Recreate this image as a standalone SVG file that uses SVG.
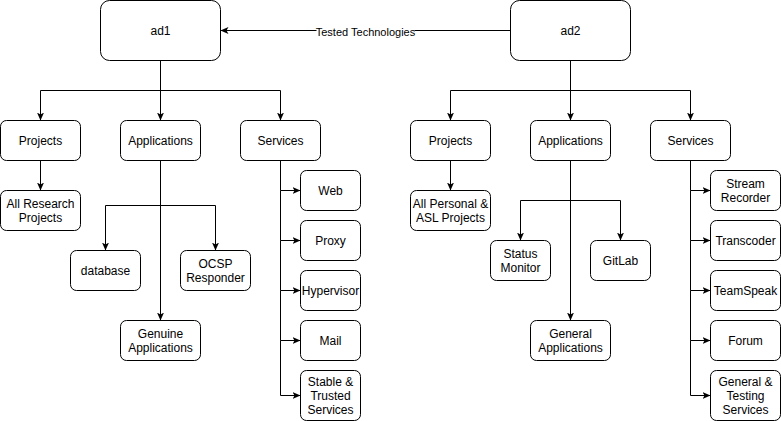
<svg xmlns="http://www.w3.org/2000/svg" width="781" height="421" viewBox="0 0 781 421">
<style>
.n rect{fill:#fff;stroke:#000;stroke-width:1}
text{font-family:"Liberation Sans",Arial,Helvetica,sans-serif;font-size:12px;fill:#000;text-anchor:middle}
.e path{fill:none;stroke:#000;stroke-width:1}
.lbl{font-size:11px}
</style>
<defs>
<marker id="a" viewBox="0 0 8 7" refX="8" refY="3.5" markerWidth="8" markerHeight="7" orient="auto" markerUnits="userSpaceOnUse">
<path d="M0,0 L8,3.5 L0,7 L2,3.5 Z" fill="#000"/>
</marker>
</defs>
<rect width="781" height="421" fill="#fff"/>
<g transform="translate(0.5,0.5)">
<g class="e" id="connectors">
<path d="M510,30 L220,30" marker-end="url(#a)"/>
<path d="M160,60 V90 H40 V120" marker-end="url(#a)"/>
<path d="M160,60 V120" marker-end="url(#a)"/>
<path d="M160,60 V90 H280 V120" marker-end="url(#a)"/>
<path d="M40,160 V190" marker-end="url(#a)"/>
<path d="M160,160 V320" marker-end="url(#a)"/>
<path d="M160,205 H105 V250" marker-end="url(#a)"/>
<path d="M160,205 H215 V250" marker-end="url(#a)"/>
<path d="M280,160 V190 H300" marker-end="url(#a)"/>
<path d="M280,190 V240 H300" marker-end="url(#a)"/>
<path d="M280,240 V290 H300" marker-end="url(#a)"/>
<path d="M280,290 V340 H300" marker-end="url(#a)"/>
<path d="M280,340 V395 H300" marker-end="url(#a)"/>
<path d="M570,60 V90 H450 V120" marker-end="url(#a)"/>
<path d="M570,60 V120" marker-end="url(#a)"/>
<path d="M570,60 V90 H690 V120" marker-end="url(#a)"/>
<path d="M450,160 V190" marker-end="url(#a)"/>
<path d="M570,160 V320" marker-end="url(#a)"/>
<path d="M570,200 H520 V240" marker-end="url(#a)"/>
<path d="M570,200 H620 V240" marker-end="url(#a)"/>
<path d="M690,160 V190 H710" marker-end="url(#a)"/>
<path d="M690,190 V240 H710" marker-end="url(#a)"/>
<path d="M690,240 V290 H710" marker-end="url(#a)"/>
<path d="M690,290 V340 H710" marker-end="url(#a)"/>
<path d="M690,340 V395 H710" marker-end="url(#a)"/>
<rect x="316" y="24" width="98" height="14" fill="#fff"/>
<text class="lbl" x="365" y="35">Tested Technologies</text>
</g>
<g class="n" id="ad1"><rect x="100" y="0" width="120" height="60" rx="9"/><text x="160" y="34">ad1</text></g>
<g class="n" id="ad2"><rect x="510" y="0" width="120" height="60" rx="9"/><text x="570" y="34">ad2</text></g>
<g class="n" id="projects1"><rect x="0" y="120" width="80" height="40" rx="6"/><text x="40" y="144">Projects</text></g>
<g class="n" id="applications1"><rect x="120" y="120" width="80" height="40" rx="6"/><text x="160" y="144">Applications</text></g>
<g class="n" id="services1"><rect x="240" y="120" width="80" height="40" rx="6"/><text x="280" y="144">Services</text></g>
<g class="n" id="research"><rect x="0" y="190" width="80" height="40" rx="6"/><text x="40" y="207">All Research</text><text x="40" y="221">Projects</text></g>
<g class="n" id="database"><rect x="70" y="250" width="70" height="40" rx="6"/><text x="105" y="274">database</text></g>
<g class="n" id="ocsp"><rect x="180" y="250" width="70" height="40" rx="6"/><text x="215" y="267">OCSP</text><text x="215" y="281">Responder</text></g>
<g class="n" id="genuine"><rect x="120" y="320" width="80" height="40" rx="6"/><text x="160" y="337">Genuine</text><text x="160" y="351">Applications</text></g>
<g class="n" id="web"><rect x="300" y="170" width="60" height="40" rx="6"/><text x="330" y="194">Web</text></g>
<g class="n" id="proxy"><rect x="300" y="220" width="60" height="40" rx="6"/><text x="330" y="244">Proxy</text></g>
<g class="n" id="hypervisor"><rect x="300" y="270" width="60" height="40" rx="6"/><text x="330" y="294">Hypervisor</text></g>
<g class="n" id="mail"><rect x="300" y="320" width="60" height="40" rx="6"/><text x="330" y="344">Mail</text></g>
<g class="n" id="stable"><rect x="300" y="370" width="60" height="50" rx="6"/><text x="330" y="385">Stable &amp;</text><text x="330" y="399">Trusted</text><text x="330" y="413">Services</text></g>
<g class="n" id="projects2"><rect x="410" y="120" width="80" height="40" rx="6"/><text x="450" y="144">Projects</text></g>
<g class="n" id="applications2"><rect x="530" y="120" width="80" height="40" rx="6"/><text x="570" y="144">Applications</text></g>
<g class="n" id="services2"><rect x="650" y="120" width="80" height="40" rx="6"/><text x="690" y="144">Services</text></g>
<g class="n" id="personal"><rect x="410" y="190" width="80" height="40" rx="6"/><text x="450" y="207">All Personal &amp;</text><text x="450" y="221">ASL Projects</text></g>
<g class="n" id="status"><rect x="490" y="240" width="60" height="40" rx="6"/><text x="520" y="257">Status</text><text x="520" y="271">Monitor</text></g>
<g class="n" id="gitlab"><rect x="590" y="240" width="60" height="40" rx="6"/><text x="620" y="264">GitLab</text></g>
<g class="n" id="general"><rect x="530" y="320" width="80" height="40" rx="6"/><text x="570" y="337">General</text><text x="570" y="351">Applications</text></g>
<g class="n" id="stream"><rect x="710" y="170" width="70" height="40" rx="6"/><text x="745" y="187">Stream</text><text x="745" y="201">Recorder</text></g>
<g class="n" id="transcoder"><rect x="710" y="220" width="70" height="40" rx="6"/><text x="745" y="244">Transcoder</text></g>
<g class="n" id="teamspeak"><rect x="710" y="270" width="70" height="40" rx="6"/><text x="745" y="294">TeamSpeak</text></g>
<g class="n" id="forum"><rect x="710" y="320" width="70" height="40" rx="6"/><text x="745" y="344">Forum</text></g>
<g class="n" id="gentest"><rect x="710" y="370" width="70" height="50" rx="6"/><text x="745" y="385">General &amp;</text><text x="745" y="399">Testing</text><text x="745" y="413">Services</text></g>
</g>
</svg>
